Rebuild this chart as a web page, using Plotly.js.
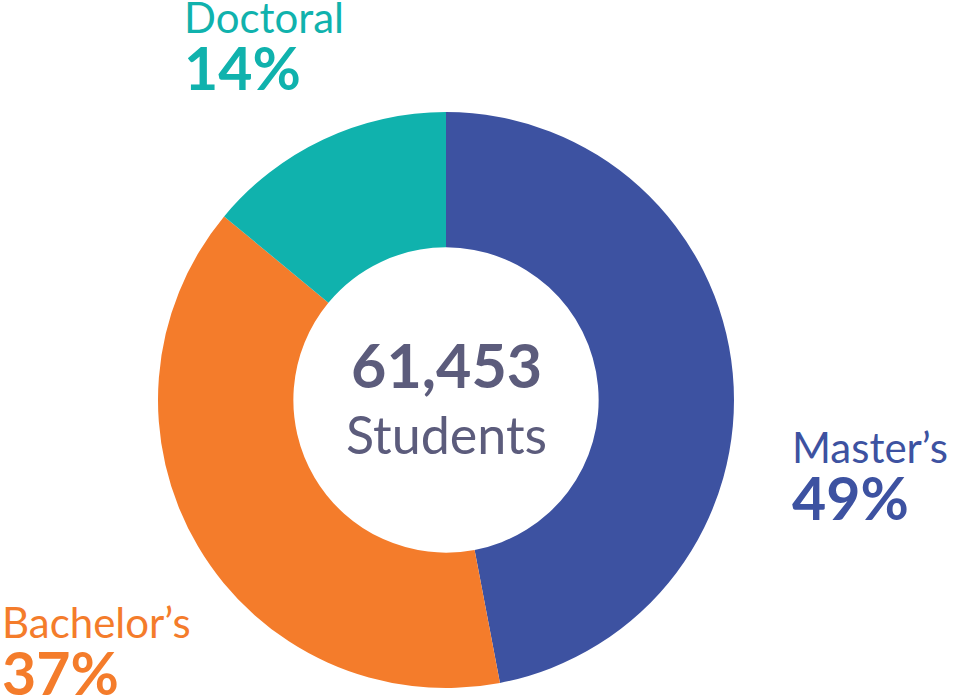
<!DOCTYPE html>
<html>
<head>
<meta charset="utf-8">
<script src="https://cdn.plot.ly/plotly-3.0.1.min.js"></script>
<style>html,body{margin:0;padding:0;background:#fff;}#chart{width:953px;height:698px;}</style>
</head>
<body>
<div id="chart"></div>
<script>
const categories = ["Master’s", "Bachelor’s", "Doctoral"];
const shares = [47, 39, 14];
const pctLabels = ["49%", "37%", "14%"];
const colors = ["#3D52A1", "#F47C2B", "#10B2AD"];
const totalLabel = "61,453";
const unitLabel = "Students";

const W = 953, H = 698;
const px = x => x / W;
const py = y => 1 - y / H;
const cx = 446, cy = 400, R = 288;

const FONT = "Lato, 'Open Sans', sans-serif";

// label block positions (pixel, top-left of text block)
const labelPos = {
  "Master’s": {x: 790, top: 420},
  "Bachelor’s": {x: 0, top: 595},
  "Doctoral": {x: 182, top: -10}
};

const annotations = [];
categories.forEach((c, i) => {
  const p = labelPos[c];
  annotations.push({
    text: '<span style="font-size:42px">' + c + '</span><br><b><span style="font-size:59px">' + pctLabels[i] + '</span></b>',
    x: px(p.x), y: py(p.top), xref: "paper", yref: "paper",
    xanchor: "left", yanchor: "top", align: "left", showarrow: false,
    font: {family: FONT, size: 44, color: colors[i]}});
});
annotations.push({text: "<b>" + totalLabel + "</b>", x: px(cx), y: py(365), xref: "paper", yref: "paper",
  xanchor: "center", yanchor: "middle", showarrow: false,
  font: {family: FONT, size: 61, color: "#5C5C7C"}});
annotations.push({text: unitLabel, x: px(cx), y: py(434), xref: "paper", yref: "paper",
  xanchor: "center", yanchor: "middle", showarrow: false,
  font: {family: FONT, size: 52, color: "#5C5C7C"}});

const data = [{
  type: "pie",
  labels: categories,
  values: shares,
  marker: {colors: colors, line: {width: 0}},
  hole: 0.53,
  sort: false,
  direction: "clockwise",
  rotation: 0,
  textinfo: "none",
  hoverinfo: "label+percent",
  showlegend: false,
  domain: {x: [px(cx - R), px(cx + R)], y: [py(cy + R), py(cy - R)]}
}];

const layout = {
  width: W, height: H,
  margin: {l: 0, r: 0, t: 0, b: 0},
  paper_bgcolor: "#fff",
  plot_bgcolor: "#fff",
  showlegend: false,
  annotations: annotations
};

Plotly.newPlot("chart", data, layout, {displayModeBar: false, staticPlot: true});
</script>
</body>
</html>
